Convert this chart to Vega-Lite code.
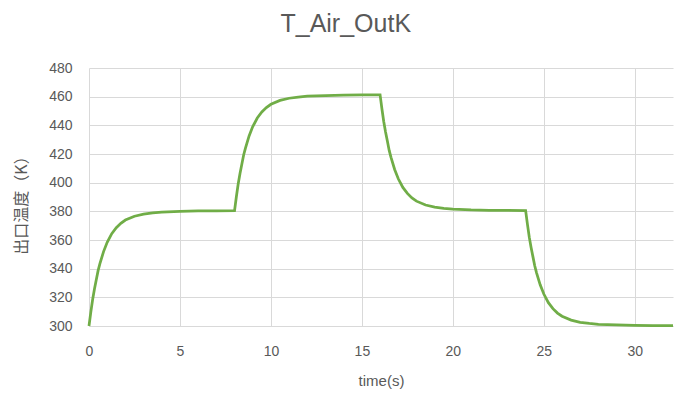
{
  "$schema": "https://vega.github.io/schema/vega-lite/v6.json",
  "width": 584,
  "height": 258,
  "autosize": {"type": "none"},
  "padding": {"left": 89, "top": 68, "right": 17, "bottom": 79},
  "background": "white",
  "title": {
    "text": "T_Air_OutK",
    "anchor": "middle",
    "frame": "bounds",
    "font": "Liberation Sans",
    "fontSize": 25,
    "fontWeight": "normal",
    "color": "#595959",
    "offset": 24
  },
  "config": {
    "view": {"stroke": null},
    "axis": {
      "gridColor": "#d9d9d9",
      "gridWidth": 1,
      "ticks": false,
      "labelFont": "Liberation Sans",
      "labelFontSize": 14,
      "labelColor": "#595959",
      "titleFont": "Liberation Sans",
      "titleFontSize": 15,
      "titleFontWeight": "normal",
      "titleColor": "#595959"
    }
  },
  "data": {
    "values": [
      {"t": 0, "T": 300.0}, {"t": 0.1, "T": 309.7}, {"t": 0.2, "T": 318.5}, {"t": 0.3, "T": 325.8}, {"t": 0.4, "T": 332.2},
      {"t": 0.5, "T": 338.6}, {"t": 0.6, "T": 343.5}, {"t": 0.8, "T": 351.9}, {"t": 1.0, "T": 358.4}, {"t": 1.25, "T": 364.4},
      {"t": 1.5, "T": 368.6}, {"t": 1.75, "T": 371.6}, {"t": 2.0, "T": 373.9}, {"t": 2.5, "T": 376.6}, {"t": 3.0, "T": 378.1},
      {"t": 3.5, "T": 378.9}, {"t": 4.0, "T": 379.5}, {"t": 5.0, "T": 380.0}, {"t": 6.0, "T": 380.3}, {"t": 7.0, "T": 380.4},
      {"t": 8.0, "T": 380.5}, {"t": 8.1, "T": 390.2}, {"t": 8.2, "T": 399.1}, {"t": 8.3, "T": 406.4}, {"t": 8.4, "T": 412.8},
      {"t": 8.5, "T": 419.3}, {"t": 8.6, "T": 424.1}, {"t": 8.8, "T": 432.6}, {"t": 9.0, "T": 439.1}, {"t": 9.25, "T": 445.1},
      {"t": 9.5, "T": 449.3}, {"t": 9.75, "T": 452.4}, {"t": 10.0, "T": 454.7}, {"t": 10.5, "T": 457.4}, {"t": 11.0, "T": 458.9},
      {"t": 11.5, "T": 459.7}, {"t": 12.0, "T": 460.3}, {"t": 13.0, "T": 460.8}, {"t": 14.0, "T": 461.1}, {"t": 15.0, "T": 461.2},
      {"t": 16.0, "T": 461.3}, {"t": 16.1, "T": 451.6}, {"t": 16.2, "T": 442.7}, {"t": 16.3, "T": 435.4}, {"t": 16.4, "T": 429.0},
      {"t": 16.5, "T": 422.5}, {"t": 16.6, "T": 417.7}, {"t": 16.8, "T": 409.2}, {"t": 17.0, "T": 402.7}, {"t": 17.25, "T": 396.7},
      {"t": 17.5, "T": 392.5}, {"t": 17.75, "T": 389.4}, {"t": 18.0, "T": 387.1}, {"t": 18.5, "T": 384.4}, {"t": 19.0, "T": 382.9},
      {"t": 19.5, "T": 382.1}, {"t": 20.0, "T": 381.6}, {"t": 21.0, "T": 381.0}, {"t": 22.0, "T": 380.7}, {"t": 23.0, "T": 380.6},
      {"t": 24.0, "T": 380.5}, {"t": 24.1, "T": 370.9}, {"t": 24.2, "T": 362.0}, {"t": 24.3, "T": 354.8}, {"t": 24.4, "T": 348.4},
      {"t": 24.5, "T": 342.0}, {"t": 24.6, "T": 337.1}, {"t": 24.8, "T": 328.7}, {"t": 25.0, "T": 322.3}, {"t": 25.25, "T": 316.3},
      {"t": 25.5, "T": 312.1}, {"t": 25.75, "T": 309.0}, {"t": 26.0, "T": 306.8}, {"t": 26.5, "T": 304.1}, {"t": 27.0, "T": 302.6},
      {"t": 27.5, "T": 301.8}, {"t": 28.0, "T": 301.2}, {"t": 29.0, "T": 300.7}, {"t": 30.0, "T": 300.4}, {"t": 31.0, "T": 300.3},
      {"t": 32.0, "T": 300.2}, {"t": 32.1, "T": 300.2}
    ]
  },
  "mark": {"type": "line", "color": "#70AD47", "strokeWidth": 2.75},
  "encoding": {
    "x": {
      "field": "t",
      "type": "quantitative",
      "scale": {"domain": [0, 32.1], "nice": false, "zero": false},
      "axis": {
        "title": "time(s)",
        "values": [0, 5, 10, 15, 20, 25, 30],
        "domainColor": "#d9d9d9",
        "domainWidth": 1,
        "labelFlush": false,
        "labelPadding": 18,
        "titleY": 54,
        "titleBaseline": "middle"
      }
    },
    "y": {
      "field": "T",
      "type": "quantitative",
      "scale": {"domain": [300, 480], "nice": false, "zero": false},
      "axis": {
        "title": "出口温度（K）",
        "titleFont": "Noto Sans CJK SC",
        "titleFontSize": 16,
        "values": [300, 320, 340, 360, 380, 400, 420, 440, 460, 480],
        "domain": false,
        "labelPadding": 17,
        "labelFlush": false,
        "titleX": -68,
        "titleY": 133,
        "titleAlign": "center",
        "titleBaseline": "middle",
        "titleAngle": -90
      }
    }
  }
}
